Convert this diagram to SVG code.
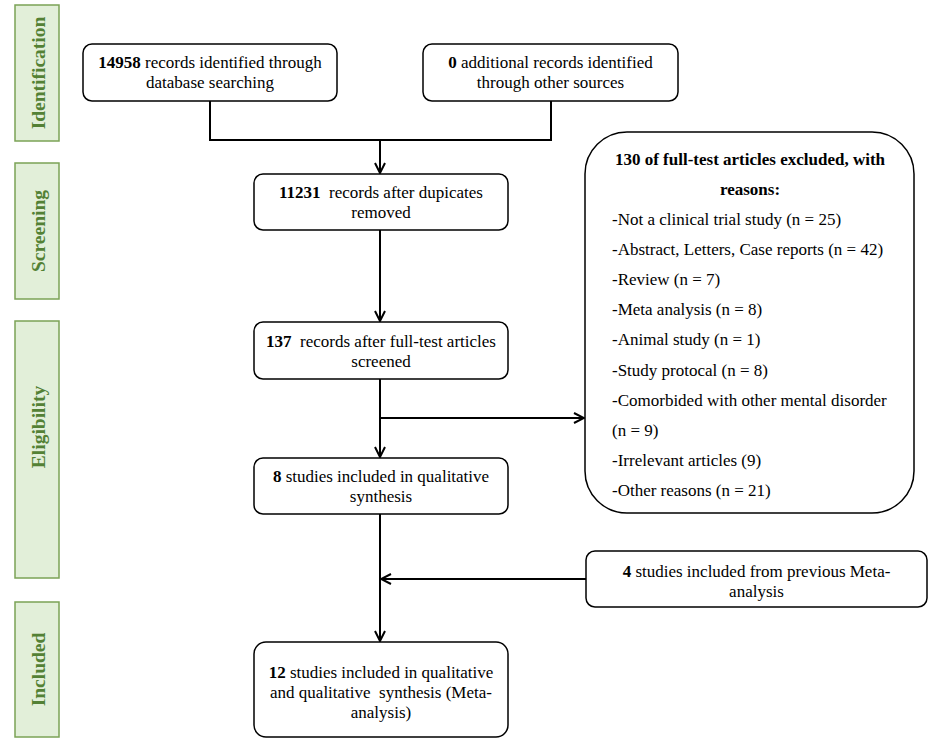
<svg xmlns="http://www.w3.org/2000/svg" width="935" height="747" viewBox="0 0 935 747">
<style>
.stage rect{fill:#e2efd9;stroke:#7ba356;stroke-width:1.5}
.stage text{font-family:"Liberation Serif",serif;font-weight:bold;font-size:19.5px;fill:#538135;text-anchor:middle}
.box{fill:#fff;stroke:#000;stroke-width:1.5}
.t{font-family:"Liberation Serif",serif;font-size:17px;fill:#000;text-anchor:middle}
.l{font-family:"Liberation Serif",serif;font-size:17px;fill:#000}
.b{font-weight:bold}
.c{fill:none;stroke:#000;stroke-width:2}
</style>
<defs>
<marker id="ah" viewBox="0 0 12 12" refX="11" refY="6" markerWidth="12" markerHeight="12" markerUnits="userSpaceOnUse" orient="auto">
<path d="M1,1 L11,6 L1,11" fill="none" stroke="#000" stroke-width="2"/>
</marker>
</defs>
<rect width="935" height="747" fill="#fff"/>
<g id="stage-identification" class="stage"><rect x="15" y="5" width="44" height="136"/><text transform="translate(44.5,73) rotate(-90)">Identification</text></g>
<g id="stage-screening" class="stage"><rect x="15" y="163" width="44" height="136"/><text transform="translate(44.5,231) rotate(-90)">Screening</text></g>
<g id="stage-eligibility" class="stage"><rect x="15" y="321" width="44" height="257"/><text transform="translate(44.5,427) rotate(-90)">Eligibility</text></g>
<g id="stage-included" class="stage"><rect x="15" y="602" width="44" height="135"/><text transform="translate(44.5,669.5) rotate(-90)">Included</text></g>

<g id="connectors">
<path class="c" d="M210,101 V140 H551 V101"/>
<path class="c" d="M380,140 V173" marker-end="url(#ah)"/>
<path class="c" d="M380,230 V321" marker-end="url(#ah)"/>
<path class="c" d="M380,379 V457" marker-end="url(#ah)"/>
<path class="c" d="M380,418 H584" marker-end="url(#ah)"/>
<path class="c" d="M380,514 V641" marker-end="url(#ah)"/>
<path class="c" d="M586,579 H381" marker-end="url(#ah)"/>
</g>

<g id="n1"><rect class="box" x="83" y="44" width="254" height="57" rx="9"/>
<text class="t" x="210" y="68"><tspan class="b">14958</tspan> records identified through</text>
<text class="t" x="210" y="88">database searching</text></g>

<g id="n2"><rect class="box" x="423" y="44" width="255" height="57" rx="9"/>
<text class="t" x="550.5" y="68"><tspan class="b">0</tspan> additional records identified</text>
<text class="t" x="550.5" y="88">through other sources</text></g>

<g id="n3"><rect class="box" x="254" y="174" width="254" height="56" rx="9"/>
<text class="t" x="381" y="198" xml:space="preserve"><tspan class="b">11231</tspan>  records after dupicates</text>
<text class="t" x="381" y="218">removed</text></g>

<g id="n4"><rect class="box" x="254" y="322" width="254" height="57" rx="9"/>
<text class="t" x="381" y="347" xml:space="preserve"><tspan class="b">137</tspan>  records after full-test articles</text>
<text class="t" x="381" y="367">screened</text></g>

<g id="n5"><rect class="box" x="254" y="458" width="254" height="56" rx="9"/>
<text class="t" x="381" y="482"><tspan class="b">8</tspan> studies included in qualitative</text>
<text class="t" x="381" y="502">synthesis</text></g>

<g id="n6"><rect class="box" x="585" y="132" width="329" height="381" rx="42"/>
<text class="t b" x="750" y="165">130 of full-test articles excluded, with</text>
<text class="t b" x="750" y="195">reasons:</text>
<text class="l" x="612" y="225">-Not a clinical trial study (n = 25)</text>
<text class="l" x="612" y="255">-Abstract, Letters, Case reports (n = 42)</text>
<text class="l" x="612" y="285">-Review (n = 7)</text>
<text class="l" x="612" y="315">-Meta analysis (n = 8)</text>
<text class="l" x="612" y="345">-Animal study (n = 1)</text>
<text class="l" x="612" y="376">-Study protocal (n = 8)</text>
<text class="l" x="612" y="406">-Comorbided with other mental disorder</text>
<text class="l" x="612" y="436">(n = 9)</text>
<text class="l" x="612" y="466">-Irrelevant articles (9)</text>
<text class="l" x="612" y="496">-Other reasons (n = 21)</text></g>

<g id="n7"><rect class="box" x="586" y="551" width="341" height="56" rx="9"/>
<text class="t" x="756.5" y="577"><tspan class="b">4</tspan> studies included from previous Meta-</text>
<text class="t" x="756.5" y="597">analysis</text></g>

<g id="n8"><rect class="box" x="254" y="642" width="254" height="95" rx="12"/>
<text class="t" x="381" y="678"><tspan class="b">12</tspan> studies included in qualitative</text>
<text class="t" x="381" y="698" xml:space="preserve">and qualitative  synthesis (Meta-</text>
<text class="t" x="381" y="718">analysis)</text></g>
</svg>
